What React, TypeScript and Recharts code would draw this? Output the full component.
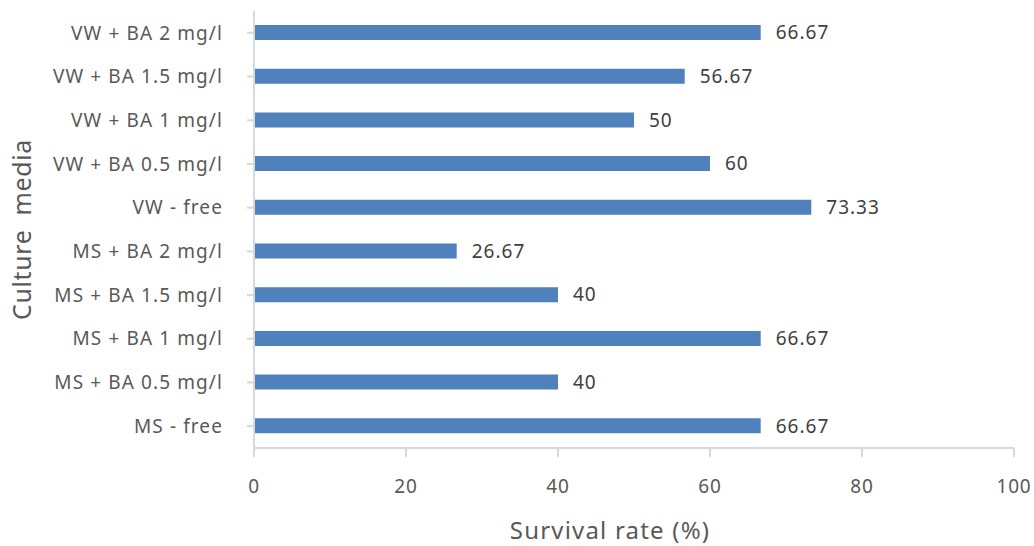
import { Bar, BarChart, LabelList, XAxis, YAxis } from "recharts";

// top-to-bottom as shown in the chart
const media = [
  "VW + BA 2 mg/l",
  "VW + BA 1.5 mg/l",
  "VW + BA 1 mg/l",
  "VW + BA 0.5 mg/l",
  "VW - free",
  "MS + BA 2 mg/l",
  "MS + BA 1.5 mg/l",
  "MS + BA 1 mg/l",
  "MS + BA 0.5 mg/l",
  "MS - free",
];
const survival = [66.67, 56.67, 50, 60, 73.33, 26.67, 40, 66.67, 40, 66.67];
const xTicks = [0, 20, 40, 60, 80, 100];

const data = media.map((name, i) => ({ name, value: survival[i] }));

const FONT = "'Noto Sans', 'Open Sans', sans-serif";
const AXIS = "#d9d9d9";
const TEXT = "#595959";

export default function App() {
  return (
    <div style={{ position: "absolute", left: 0, top: 0, fontFamily: FONT }}>
      <BarChart
        width={1034}
        height={546}
        data={data}
        layout="vertical"
        margin={{ top: 11, right: 20, bottom: 0, left: 0 }}
        barCategoryGap={0}
      >
        <XAxis
          type="number"
          domain={[0, 100]}
          ticks={xTicks}
          tick={{ fontSize: 19, fill: TEXT, fontFamily: FONT, letterSpacing: 0.8 }}
          tickSize={9}
          tickMargin={23}
          stroke={AXIS}
          strokeWidth={2}
          height={98}
          label={{
            value: "Survival rate (%)",
            position: "insideBottom",
            offset: 7,
            dx: -24,
            fontSize: 24,
            fill: TEXT,
            fontFamily: FONT,
            letterSpacing: 1.2,
          }}
        />
        <YAxis
          type="category"
          dataKey="name"
          width={254}
          tick={{ fontSize: 19, fill: TEXT, fontFamily: FONT, letterSpacing: 1.1 }}
          tickSize={7}
          tickMargin={24}
          stroke={AXIS}
          strokeWidth={2}
          interval={0}
          label={{
            value: "Culture\u00a0\u00a0media",
            angle: -90,
            position: "insideLeft",
            offset: 22,
            fontSize: 25,
            fill: TEXT,
            fontFamily: FONT,
            letterSpacing: 0.6,
            style: { textAnchor: "middle" },
          }}
        />
        <Bar dataKey="value" fill="#4f81bd" barSize={15} isAnimationActive={false}>
          <LabelList
            dataKey="value"
            position="right"
            offset={15}
            fill="#404040"
            fontSize={19}
            fontFamily={FONT}
            letterSpacing={1}
          />
        </Bar>
      </BarChart>
    </div>
  );
}
